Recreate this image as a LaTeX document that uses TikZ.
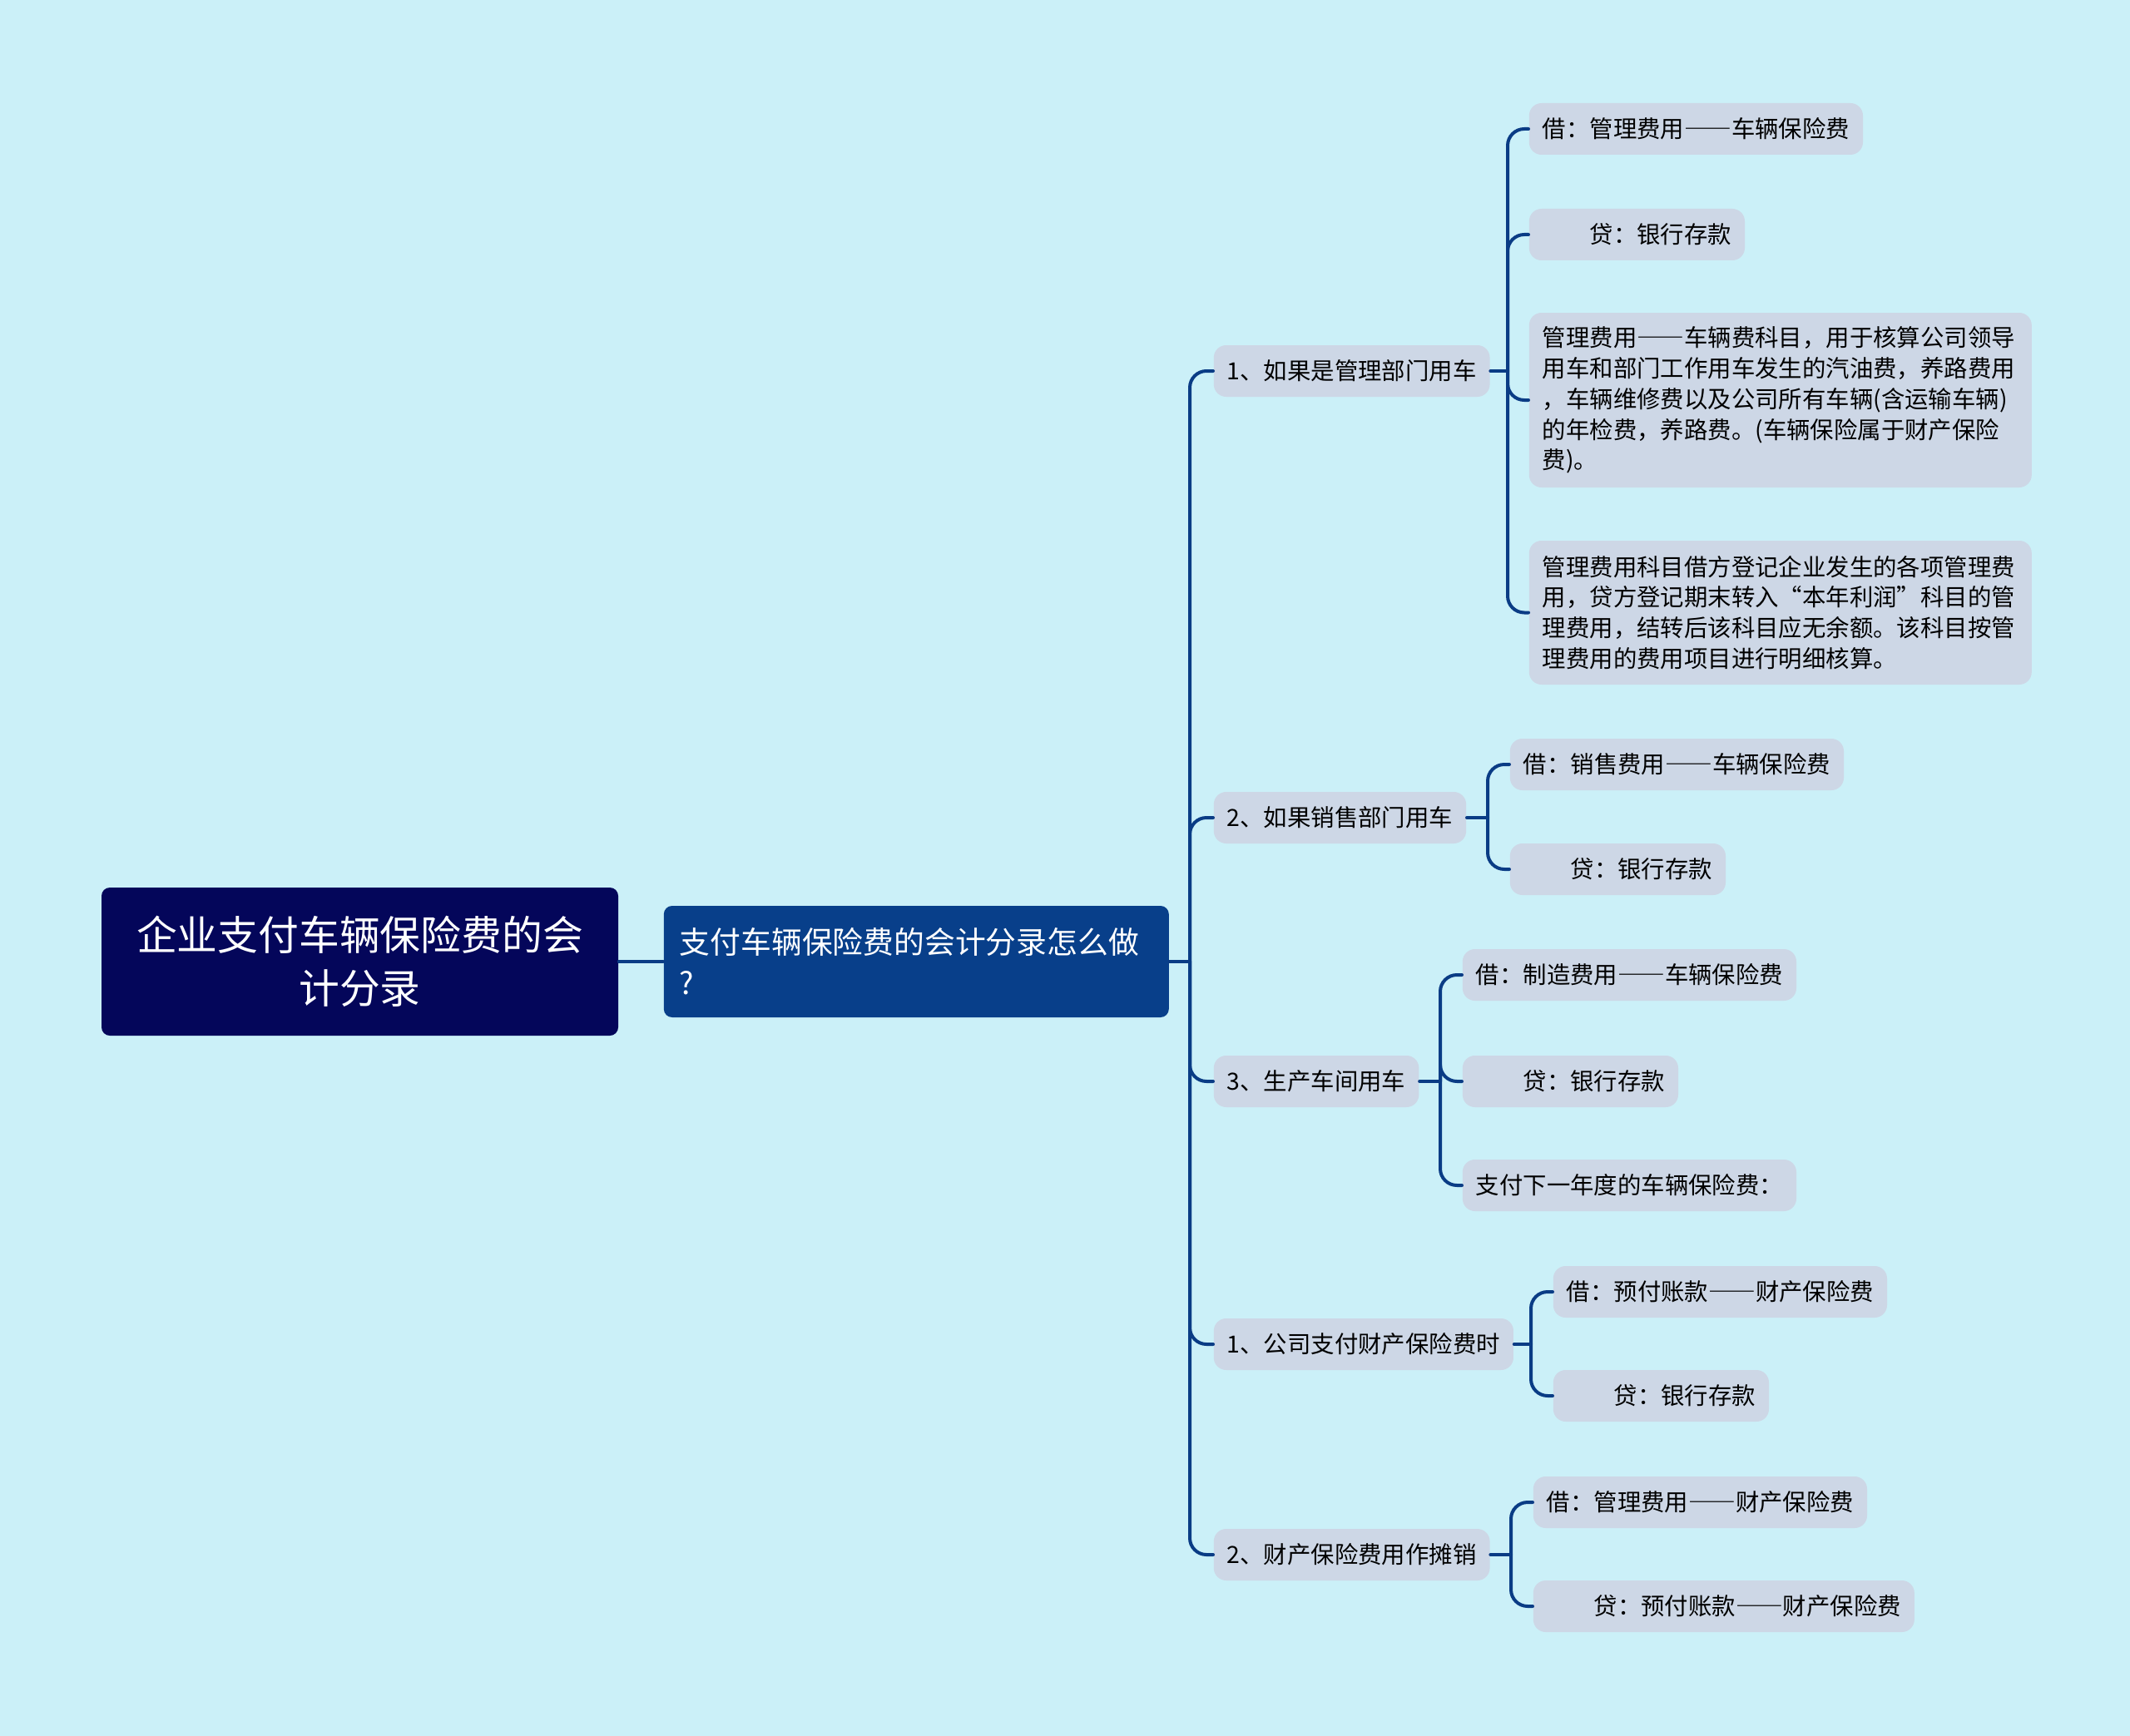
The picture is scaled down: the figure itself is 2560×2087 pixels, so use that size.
\documentclass[tikz,border=0pt]{standalone}
\usepackage{fontspec}
\setmainfont{Noto Sans CJK SC}
\newfontfamily\dashfont[RawFeature=+fwid]{Noto Sans CJK SC}
\newcommand{\ldash}{{\dashfont ——}}
\usetikzlibrary{positioning}

\begin{document}
\begin{tikzpicture}[x=0.25pt,y=-0.25pt,
  link/.style={draw=linkColor,line width=1pt,line cap=round},
  elbow/.style={link,rounded corners=5pt},
  leaf/.style={fill=leafFill,rounded corners=3.75pt,anchor=west,inner xsep=4pt,
    inner ysep=0pt,minimum height=15.5pt,text=black,
    font=\fontsize{7.1}{9.2}\selectfont},
  para/.style={leaf,text width=143pt,align=left}]
\definecolor{bgColor}{RGB}{203,240,248}
\definecolor{leafFill}{RGB}{205,215,230}
\definecolor{linkColor}{RGB}{10,60,133}
\definecolor{rootFill}{RGB}{4,6,90}
\definecolor{mainFill}{RGB}{8,63,138}
\path[use as bounding box,fill=bgColor] (0,0) rectangle (2560,2087);

% root and question
\node[fill=rootFill,text=white,rounded corners=2.5pt,minimum width=155.25pt,
  minimum height=44.5pt,text width=140pt,align=center,
  font=\fontsize{12.2}{16}\selectfont] (root) at (432.5,1156)
  {企业支付车辆保险费的会\\计分录};
\node[fill=mainFill,text=white,rounded corners=2.5pt,anchor=west,
  inner xsep=4.75pt,minimum height=33.5pt,text width=142.25pt,align=left,
  font=\fontsize{9.2}{12.2}\selectfont] (main) at (797,1156)
  {支付车辆保险费的会计分录怎么做\\?};

% first level
\node[leaf] (A) at (1458,446) {1、如果是管理部门用车};
\node[leaf] (B) at (1458,983) {2、如果销售部门用车};
\node[leaf] (C) at (1458,1300) {3、生产车间用车};
\node[leaf] (D) at (1458,1616) {1、公司支付财产保险费时};
\node[leaf] (E) at (1458,1869) {2、财产保险费用作摊销};

% entries
\node[leaf] (A1) at (1837,155) {借：管理费用\ldash 车辆保险费};
\node[leaf] (A2) at (1837,282) {\hspace{2em}贷：银行存款};
\node[para,minimum height=52.5pt] (A3) at (1837,481)
  {管理费用\ldash 车辆费科目，用于核算公司领导\\
   用车和部门工作用车发生的汽油费，养路费用\\
   ，车辆维修费以及公司所有车辆(含运输车辆)\\
   的年检费，养路费。(车辆保险属于财产保险\\
   费)。};
\node[para,minimum height=43.25pt] (A4) at (1837,736.5)
  {管理费用科目借方登记企业发生的各项管理费\\
   用，贷方登记期末转入“本年利润”科目的管\\
   理费用，结转后该科目应无余额。该科目按管\\
   理费用的费用项目进行明细核算。};

\node[leaf] (B1) at (1814,919) {借：销售费用\ldash 车辆保险费};
\node[leaf] (B2) at (1814,1045) {\hspace{2em}贷：银行存款};

\node[leaf] (C1) at (1757,1172) {借：制造费用\ldash 车辆保险费};
\node[leaf] (C2) at (1757,1300) {\hspace{2em}贷：银行存款};
\node[leaf] (C3) at (1757,1425) {支付下一年度的车辆保险费：};

\node[leaf] (D1) at (1866,1553) {借：预付账款\ldash 财产保险费};
\node[leaf] (D2) at (1866,1678) {\hspace{2em}贷：银行存款};

\node[leaf] (E1) at (1842,1806) {借：管理费用\ldash 财产保险费};
\node[leaf] (E2) at (1842,1931) {\hspace{2em}贷：预付账款\ldash 财产保险费};

% junctions
\coordinate (mj) at (1430,1156);
\coordinate (Aj) at (1812,446);
\coordinate (Bj) at (1788,983);
\coordinate (Cj) at (1731,1300);
\coordinate (Dj) at (1840,1616);
\coordinate (Ej) at (1816,1869);

\draw[link] (root.east) -- (main.west);
\draw[link] (main.east) -- (mj);
\foreach \n in {A,B,C,D,E}
  \draw[elbow] (mj) |- (\n.west);

\draw[link] (A.east) -- (Aj);
\foreach \n in {A1,A2,A3,A4}
  \draw[elbow] (Aj) |- (\n.west);
\draw[link] (B.east) -- (Bj);
\foreach \n in {B1,B2}
  \draw[elbow] (Bj) |- (\n.west);
\draw[link] (C.east) -- (Cj);
\foreach \n in {C1,C2,C3}
  \draw[elbow] (Cj) |- (\n.west);
\draw[link] (D.east) -- (Dj);
\foreach \n in {D1,D2}
  \draw[elbow] (Dj) |- (\n.west);
\draw[link] (E.east) -- (Ej);
\foreach \n in {E1,E2}
  \draw[elbow] (Ej) |- (\n.west);
\end{tikzpicture}
\end{document}
